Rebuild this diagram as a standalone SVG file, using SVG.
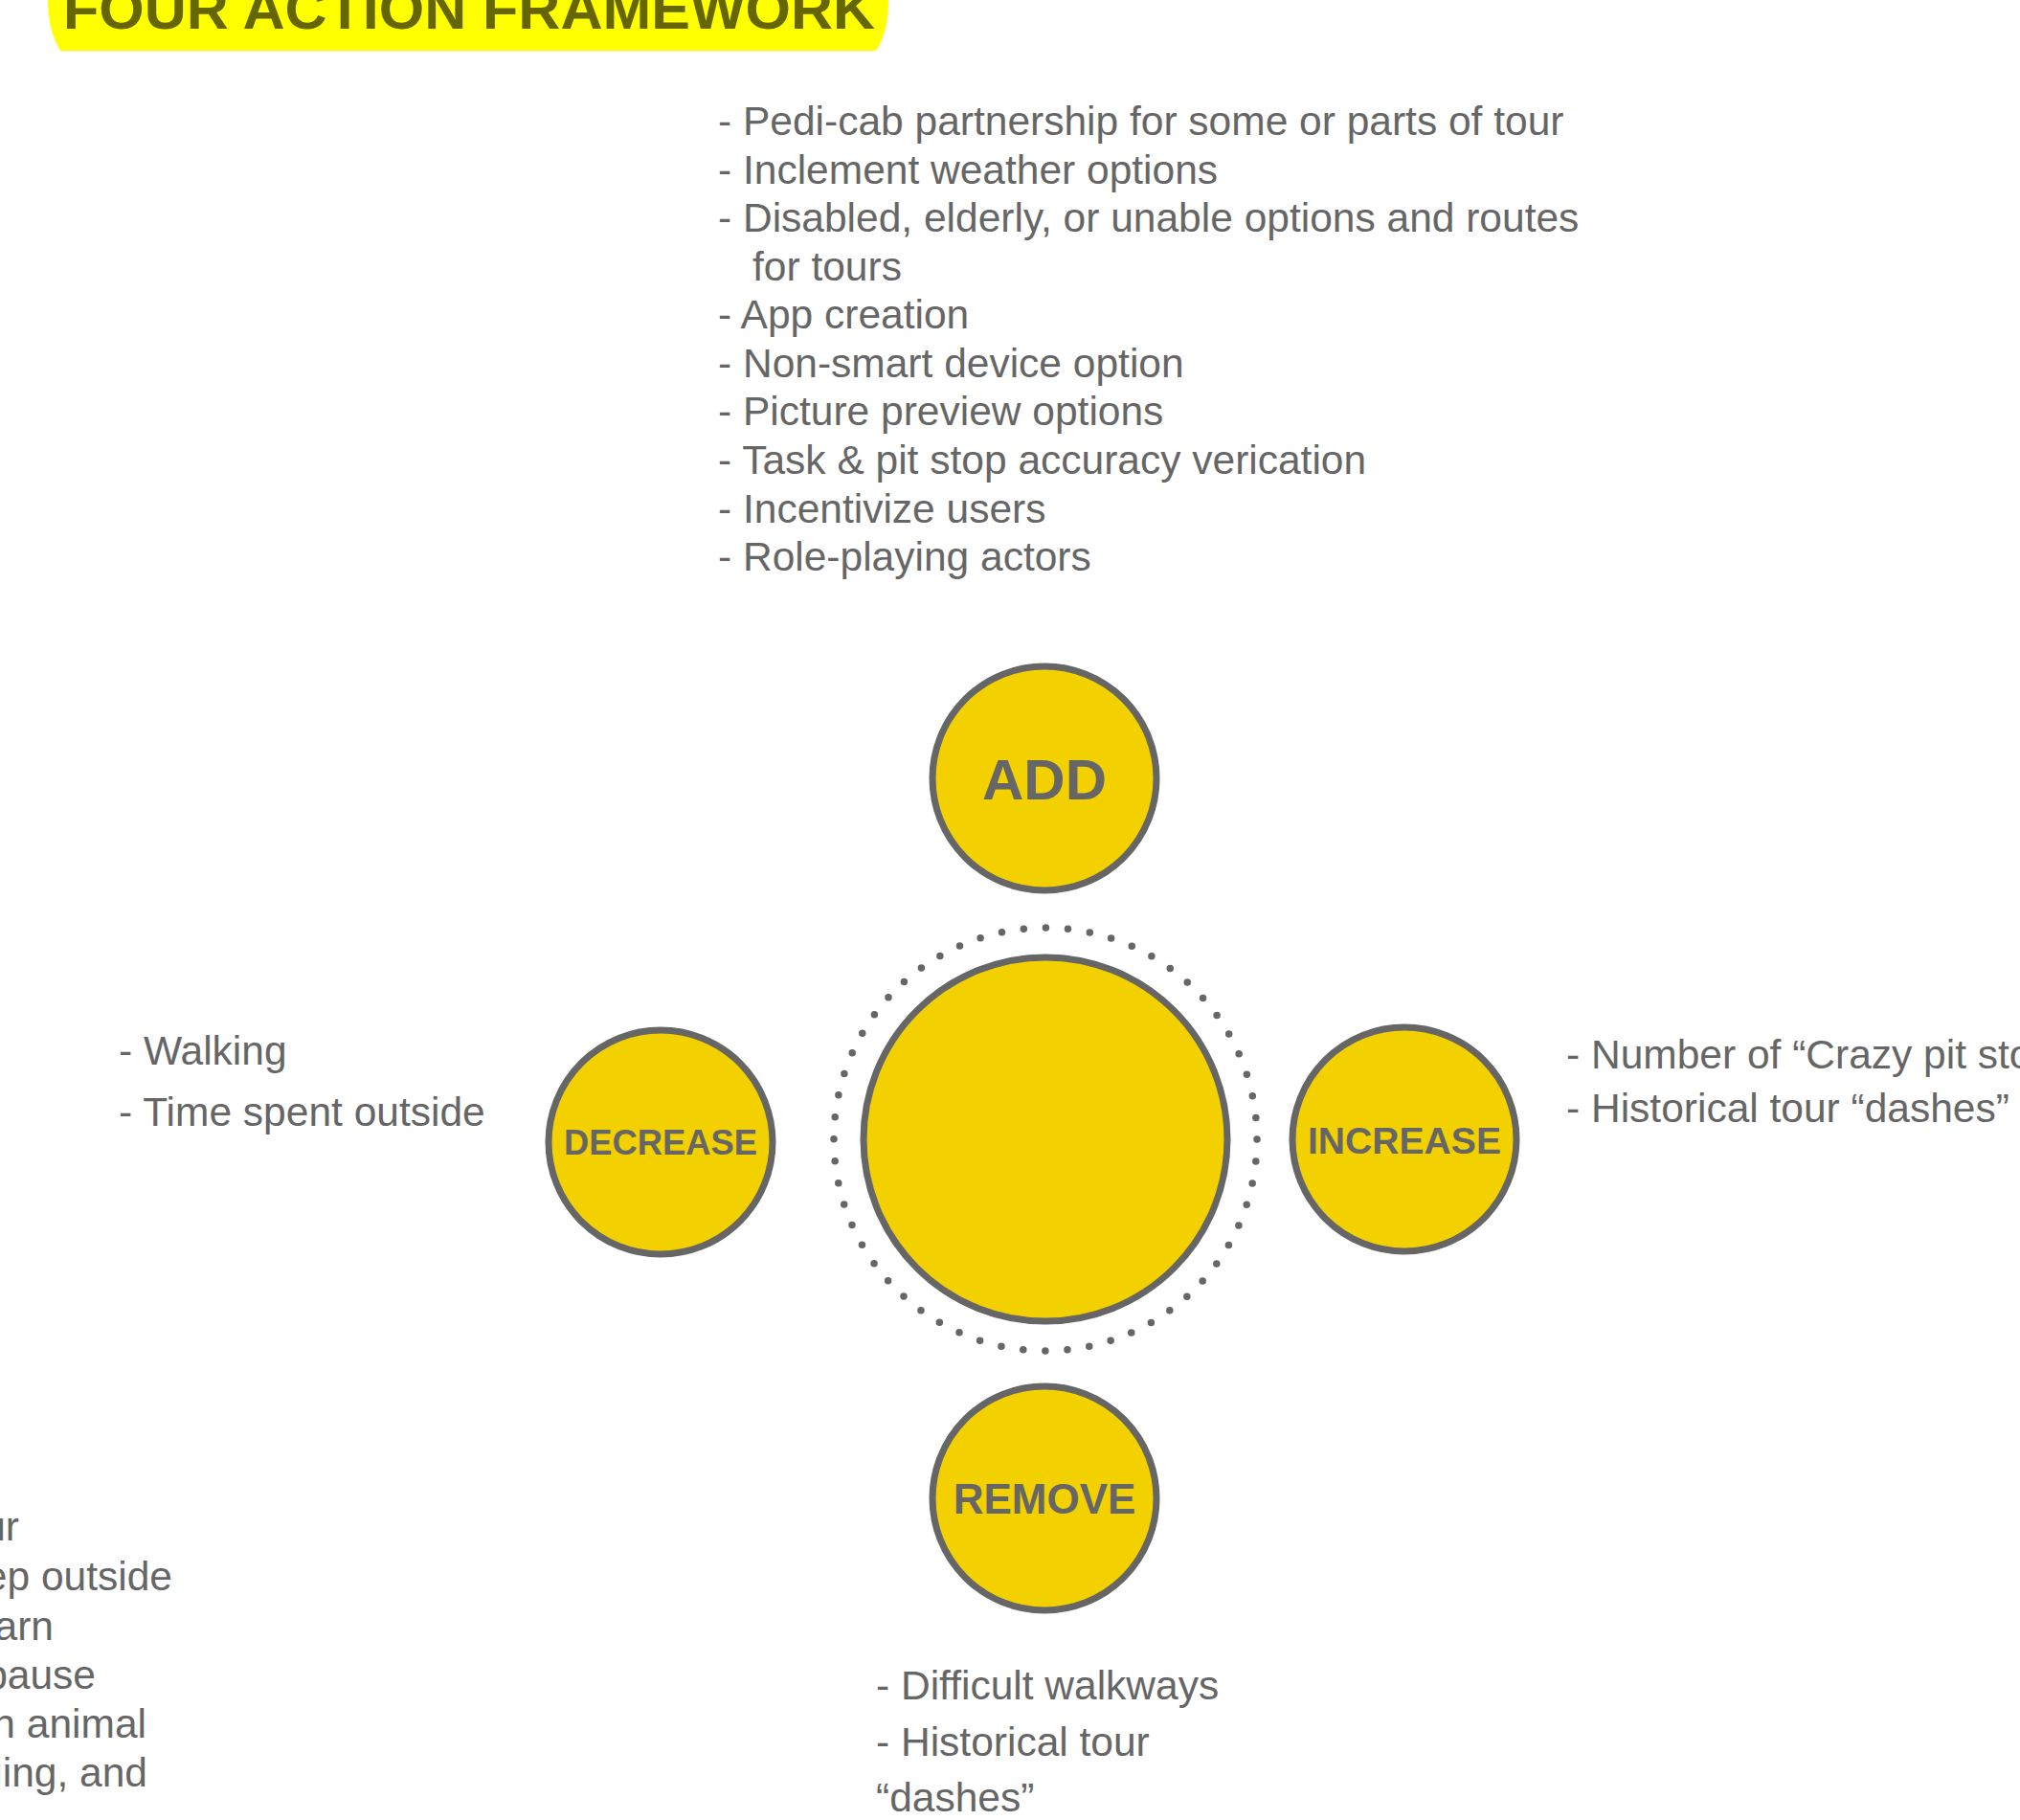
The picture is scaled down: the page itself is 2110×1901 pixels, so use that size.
<svg xmlns="http://www.w3.org/2000/svg" width="2110" height="1901" viewBox="0 0 2110 1901">
  <style>
    .bubble { fill: #F3D000; stroke: #666666; stroke-width: 7; }
    .label { font-family: "Liberation Sans", Arial, sans-serif; font-weight: bold; fill: #666666; text-anchor: middle; }
    .note { font-family: "Liberation Sans", Arial, sans-serif; font-size: 42.5px; fill: #666666; }
    .ring { fill: none; stroke: #666666; stroke-width: 7.5; stroke-linecap: round; stroke-dasharray: 0 23.143; }
  </style>
  <rect width="2110" height="1901" fill="#ffffff"/>

  <!-- heading banner -->
  <g id="title">
    <path d="M50,0 L928,0 C928,22 924,40 915,53 L63,53 C55,40 50,22 50,0 Z" fill="#FFFF00"/>
    <text x="66" y="30" font-family="Liberation Sans, Arial, sans-serif" font-weight="bold" font-size="60" fill="#666600" textLength="848" lengthAdjust="spacingAndGlyphs">FOUR ACTION FRAMEWORK</text>
  </g>

  <!-- no linking lines in this layout -->
  <g id="connectors"/>

  <!-- central hub with dotted halo (60 dots) -->
  <g id="hub">
    <circle class="ring" cx="1092" cy="1190" r="221"/>
    <circle class="bubble" cx="1092" cy="1190" r="190"/>
  </g>

  <g id="add">
    <circle class="bubble" cx="1091" cy="813" r="117"/>
    <text class="label" x="1091" y="835" font-size="60">ADD</text>
  </g>

  <g id="decrease">
    <circle class="bubble" cx="690" cy="1193" r="117"/>
    <text class="label" x="690" y="1206" font-size="37" textLength="202" lengthAdjust="spacingAndGlyphs">DECREASE</text>
  </g>

  <g id="increase">
    <circle class="bubble" cx="1467" cy="1190" r="117"/>
    <text class="label" x="1467" y="1205" font-size="38" textLength="202" lengthAdjust="spacingAndGlyphs">INCREASE</text>
  </g>

  <g id="remove">
    <circle class="bubble" cx="1091" cy="1565" r="117"/>
    <text class="label" x="1091" y="1581" font-size="44">REMOVE</text>
  </g>

  <!-- item lists -->
  <g id="add-items" class="note">
    <text x="750" y="141">- Pedi-cab partnership for some or parts of tour</text>
    <text x="750" y="192">- Inclement weather options</text>
    <text x="750" y="242">- Disabled, elderly, or unable options and routes</text>
    <text x="786" y="293">for tours</text>
    <text x="750" y="343">- App creation</text>
    <text x="750" y="394">- Non-smart device option</text>
    <text x="750" y="444">- Picture preview options</text>
    <text x="750" y="495">- Task &amp; pit stop accuracy verication</text>
    <text x="750" y="546">- Incentivize users</text>
    <text x="750" y="596">- Role-playing actors</text>
  </g>

  <g id="decrease-items" class="note">
    <text x="124" y="1112">- Walking</text>
    <text x="124" y="1176">- Time spent outside</text>
  </g>

  <g id="increase-items" class="note">
    <text x="1636" y="1116">- Number of “Crazy pit stops”</text>
    <text x="1636" y="1172">- Historical tour “dashes”</text>
  </g>

  <g id="remove-items" class="note">
    <text x="915" y="1775">- Difficult walkways</text>
    <text x="915" y="1834">- Historical tour</text>
    <text x="915" y="1892">“dashes”</text>
  </g>

  <g id="left-items" class="note" text-anchor="end">
    <text x="20" y="1609">ur</text>
    <text x="180" y="1661">ep outside</text>
    <text x="56" y="1713">arn</text>
    <text x="100" y="1764">pause</text>
    <text x="153" y="1815">n animal</text>
    <text x="154" y="1866">ging, and</text>
  </g>
</svg>
